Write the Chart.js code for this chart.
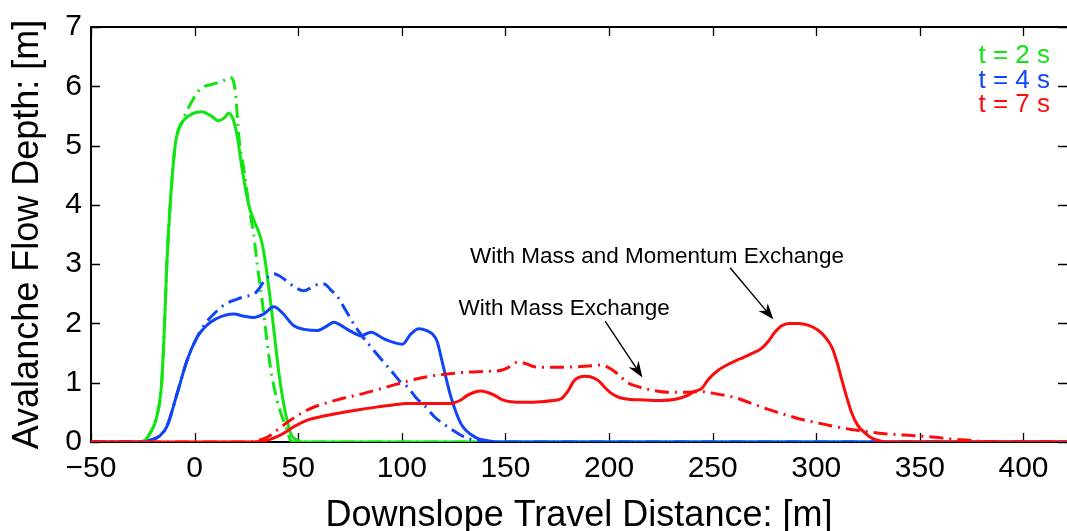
<!DOCTYPE html>
<html>
<head>
<meta charset="utf-8">
<script src="https://cdn.jsdelivr.net/npm/chart.js@4.4.1/dist/chart.umd.min.js"></script>
<style>
  html, body { margin: 0; padding: 0; background: #fff; }
</style>
</head>
<body>
<canvas id="myChart" width="1067" height="531"></canvas>
<script>
// values (x in m, depth in m)
const xTicks = [-50, 0, 50, 100, 150, 200, 250, 300, 350, 400];
const yTicks = [0, 1, 2, 3, 4, 5, 6, 7];

// t = 2 s
const g2SolidX = [-50, -28, -24, -21.5, -18.3, -15.9, -14.5, -13.4, -11.8, -9.4, -7.5, -5.5, -1, 3.5, 8, 11.5, 14.5, 16.4, 18.5, 20.5, 22.9, 26.1, 28.5, 31.8, 33.4, 36.6, 41.4, 46.3, 49, 52, 421];
const g2SolidY = [0, 0, 0.03, 0.15, 0.42, 1.0, 2.0, 3.0, 4.0, 5.0, 5.3, 5.42, 5.54, 5.57, 5.5, 5.42, 5.47, 5.55, 5.45, 5.17, 4.61, 4.0, 3.75, 3.45, 3.2, 2.38, 0.98, 0.15, 0.04, 0, 0];
const g2DashX = [-50, -28, -24, -21.5, -18.3, -15.9, -14.5, -13.4, -11.8, -9.4, -6.1, -2, 2.7, 9.2, 13, 17.2, 19.7, 21.3, 23.7, 26.9, 28.5, 30.2, 32.6, 36.6, 39.8, 43.9, 46.3, 48, 421];
const g2DashY = [0, 0, 0.03, 0.15, 0.42, 1.0, 2.0, 3.0, 4.0, 5.0, 5.39, 5.7, 5.95, 6.04, 6.08, 6.15, 5.9, 5.17, 4.61, 3.83, 3.5, 3.0, 2.38, 1.26, 0.7, 0.26, 0.03, 0, 0];

// t = 4 s
const b4SolidX = [-50, -24, -21.5, -17, -13.4, -8.5, -3.7, 1.1, 4, 7.6, 13, 18.8, 24, 28.5, 33.4, 38.2, 42.3, 47.9, 53, 59.2, 64, 67.2, 70, 73.7, 78, 80.1, 85, 91.4, 96, 100.3, 104.3, 108.3, 112, 114.8, 117, 119.7, 123.7, 128.5, 135, 141.4, 146, 421];
const b4SolidY = [0, 0, 0.03, 0.1, 0.26, 0.81, 1.37, 1.76, 1.9, 2.02, 2.12, 2.16, 2.12, 2.1, 2.16, 2.28, 2.18, 1.96, 1.9, 1.88, 1.96, 2.02, 1.98, 1.9, 1.82, 1.79, 1.85, 1.74, 1.68, 1.65, 1.82, 1.91, 1.88, 1.82, 1.7, 1.32, 0.76, 0.31, 0.09, 0.02, 0, 0];
const b4DashX = [-50, -24, -21.5, -17, -13.4, -8.5, -3.7, 1.1, 4.3, 10.8, 15, 20.5, 25, 28.5, 31, 33.4, 36, 38.2, 41, 44.7, 48, 52.7, 57, 60.8, 63, 65.6, 69, 72.1, 78.5, 86.6, 94.7, 99.5, 102.7, 107.5, 110.8, 115.6, 122, 131.8, 141, 146, 421];
const b4DashY = [0, 0, 0.03, 0.1, 0.26, 0.81, 1.37, 1.76, 1.96, 2.21, 2.33, 2.41, 2.46, 2.49, 2.58, 2.71, 2.8, 2.84, 2.8, 2.71, 2.62, 2.55, 2.62, 2.67, 2.66, 2.57, 2.45, 2.27, 1.9, 1.54, 1.21, 1.01, 0.93, 0.72, 0.62, 0.43, 0.26, 0.06, 0.01, 0, 0];

// t = 7 s
const r7SolidX = [-50, 28, 34, 39.8, 44, 47.9, 54.4, 62.4, 70, 78.5, 86, 94.7, 102.7, 115, 123.7, 128, 131.8, 135, 138.2, 141, 144.6, 148, 152.7, 160, 167.2, 173, 176.9, 180, 183.3, 188.2, 191, 194.7, 198, 201.1, 205, 209.2, 217, 225.3, 232, 238.2, 241, 244.6, 248, 252.7, 258, 263, 268.8, 273.6, 276.9, 280, 283.3, 287, 291.4, 296, 301.1, 304.5, 307.5, 310, 312.4, 315, 317.2, 320, 323.6, 327, 331.7, 336, 421];
const r7SolidY = [0, 0, 0.02, 0.09, 0.17, 0.26, 0.37, 0.44, 0.49, 0.54, 0.58, 0.62, 0.65, 0.65, 0.65, 0.7, 0.79, 0.84, 0.86, 0.84, 0.79, 0.72, 0.68, 0.67, 0.68, 0.7, 0.73, 0.85, 1.04, 1.11, 1.1, 1.04, 0.92, 0.82, 0.75, 0.72, 0.71, 0.7, 0.72, 0.79, 0.85, 0.9, 1.06, 1.21, 1.32, 1.4, 1.49, 1.58, 1.7, 1.85, 1.96, 2.0, 2.0, 1.97, 1.88, 1.76, 1.6, 1.35, 1.04, 0.72, 0.48, 0.28, 0.15, 0.06, 0.01, 0, 0];
const r7DashX = [-50, 25, 32, 36, 39.8, 46.3, 54.4, 60, 65.6, 73, 81.7, 92, 101.1, 108, 115.6, 122.9, 131.8, 140, 147.9, 152, 156, 160, 164, 170, 176.9, 185, 193, 196, 199.5, 203, 205.9, 209, 212.4, 220, 228.5, 236, 244.6, 252, 260.7, 268, 276.9, 285, 293, 301, 309.1, 317, 325.3, 333, 341.4, 350, 357.5, 365, 373.6, 380, 388, 421];
const r7DashY = [0, 0, 0.04, 0.1, 0.2, 0.37, 0.54, 0.62, 0.68, 0.75, 0.82, 0.92, 1.01, 1.07, 1.12, 1.15, 1.18, 1.19, 1.21, 1.27, 1.35, 1.32, 1.27, 1.26, 1.26, 1.27, 1.29, 1.3, 1.26, 1.18, 1.09, 1.0, 0.95, 0.88, 0.84, 0.84, 0.85, 0.81, 0.75, 0.66, 0.55, 0.46, 0.38, 0.32, 0.26, 0.21, 0.17, 0.14, 0.12, 0.1, 0.08, 0.05, 0.03, 0.01, 0, 0];

const legendLabels = ['t = 2 s', 't = 4 s', 't = 7 s'];

const FONT = "'Liberation Sans', Arial, Helvetica, sans-serif";
const GREEN = 'rgb(18, 228, 18)';
const BLUE = 'rgb(16, 68, 246)';
const RED = 'rgb(250, 12, 12)';
const DASHDOT = [14, 6, 2, 6];

function pts(xs, ys) {
  return xs.map((x, i) => ({ x: x, y: ys[i] }));
}

function line(label, xs, ys, color, dashed) {
  return {
    label: label,
    data: pts(xs, ys),
    borderColor: color,
    backgroundColor: color,
    borderWidth: 3,
    borderDash: dashed ? DASHDOT : [],
    pointRadius: 0,
    fill: false,
    cubicInterpolationMode: 'monotone'
  };
}

// annotations in data coordinates
const notes = [
  { text: 'With Mass and Momentum Exchange', x: 132.9, y: 3.13 },
  { text: 'With Mass Exchange', x: 127.3, y: 2.24 }
];
const arrows = [
  { x0: 258.4, y0: 2.94, x1: 279.3, y1: 2.07 },
  { x0: 198.1, y0: 2.04, x1: 216.1, y1: 1.09 }
];

// box and inward ticks, drawn under the lines
const boxPlugin = {
  id: 'boxPlugin',
  beforeDatasetsDraw(chart) {
    const { ctx, chartArea: a, scales } = chart;
    ctx.save();
    ctx.strokeStyle = '#000';
    ctx.lineWidth = 1.3;
    xTicks.forEach(v => {
      const px = Math.round(scales.x.getPixelForValue(v)) + 0.5;
      ctx.beginPath();
      ctx.moveTo(px, a.bottom); ctx.lineTo(px, a.bottom - 9);
      ctx.moveTo(px, a.top); ctx.lineTo(px, a.top + 9);
      ctx.stroke();
    });
    yTicks.forEach(v => {
      const py = Math.round(scales.y.getPixelForValue(v)) + 0.5;
      ctx.beginPath();
      ctx.moveTo(a.left, py); ctx.lineTo(a.left + 9, py);
      ctx.moveTo(a.right, py); ctx.lineTo(a.right - 9, py);
      ctx.stroke();
    });
    ctx.lineWidth = 2;
    ctx.beginPath();
    ctx.moveTo(a.left, a.bottom);
    ctx.lineTo(a.left, a.top);
    ctx.lineTo(a.right + 2, a.top);
    ctx.moveTo(a.left - 1, a.bottom);
    ctx.lineTo(a.right + 2, a.bottom);
    ctx.stroke();
    ctx.restore();
  }
};

// legend texts, annotation labels and arrows
const notePlugin = {
  id: 'notePlugin',
  afterDatasetsDraw(chart) {
    const { ctx, chartArea: a, scales } = chart;
    ctx.save();
    ctx.textBaseline = 'middle';

    ctx.font = '26px ' + FONT;
    ctx.textAlign = 'right';
    [GREEN, BLUE, RED].forEach((c, i) => {
      ctx.fillStyle = c;
      ctx.fillText(legendLabels[i], a.right - 17, a.top + 29 + i * 24.5);
    });

    ctx.font = '22.5px ' + FONT;
    ctx.textAlign = 'left';
    ctx.fillStyle = '#000';
    notes.forEach(n => {
      ctx.fillText(n.text, scales.x.getPixelForValue(n.x), scales.y.getPixelForValue(n.y));
    });

    arrows.forEach(ar => {
      const x0 = scales.x.getPixelForValue(ar.x0), y0 = scales.y.getPixelForValue(ar.y0);
      const x1 = scales.x.getPixelForValue(ar.x1), y1 = scales.y.getPixelForValue(ar.y1);
      const ang = Math.atan2(y1 - y0, x1 - x0);
      const L = 16, W = 6, N = 11;
      const bx = x1 - L * Math.cos(ang), by = y1 - L * Math.sin(ang);
      const nx = x1 - N * Math.cos(ang), ny = y1 - N * Math.sin(ang);
      ctx.strokeStyle = '#000';
      ctx.lineWidth = 1.4;
      ctx.beginPath();
      ctx.moveTo(x0, y0);
      ctx.lineTo(nx, ny);
      ctx.stroke();
      ctx.beginPath();
      ctx.moveTo(x1, y1);
      ctx.lineTo(bx - W * Math.sin(ang), by + W * Math.cos(ang));
      ctx.lineTo(nx, ny);
      ctx.lineTo(bx + W * Math.sin(ang), by - W * Math.cos(ang));
      ctx.closePath();
      ctx.fillStyle = '#000';
      ctx.fill();
    });
    ctx.restore();
  }
};

const config = {
  type: 'line',
  data: {
    datasets: [
      line('t=7 s momentum', r7SolidX, r7SolidY, RED, false),
      line('t=7 s mass', r7DashX, r7DashY, RED, true),
      line('t=4 s momentum', b4SolidX, b4SolidY, BLUE, false),
      line('t=4 s mass', b4DashX, b4DashY, BLUE, true),
      line('t=2 s momentum', g2SolidX, g2SolidY, GREEN, false),
      line('t=2 s mass', g2DashX, g2DashY, GREEN, true)
    ]
  },
  options: {
    responsive: false,
    animation: false,
    devicePixelRatio: 1,
    layout: { padding: { top: 24, right: 0, left: 0, bottom: 0 } },
    plugins: {
      legend: { display: false },
      tooltip: { enabled: false }
    },
    scales: {
      x: {
        type: 'linear',
        min: -50,
        max: 421,
        afterBuildTicks: s => { s.ticks = xTicks.map(v => ({ value: v })); },
        afterFit: s => { s.height = 89; s.paddingLeft = 0; s.paddingRight = 0; },
        grid: { display: false, drawTicks: false },
        border: { display: false },
        ticks: {
          font: { size: 30, family: FONT },
          color: '#000',
          padding: 9,
          maxRotation: 0,
          autoSkip: false,
          callback: v => String(v).replace('-', '\u2212')
        },
        title: {
          display: true,
          text: 'Downslope Travel Distance: [m]',
          font: { size: 36, family: FONT, lineHeight: 0.85 },
          color: '#000',
          padding: { top: 2, bottom: 0 }
        }
      },
      y: {
        min: 0,
        max: 7,
        afterBuildTicks: s => { s.ticks = yTicks.map(v => ({ value: v })); },
        afterFit: s => { s.width = 91; },
        grid: { display: false, drawTicks: false },
        border: { display: false },
        ticks: {
          font: { size: 30, family: FONT },
          color: '#000',
          padding: 9
        },
        title: {
          display: true,
          text: 'Avalanche Flow Depth: [m]',
          font: { size: 36, family: FONT },
          color: '#000',
          padding: { top: 6, bottom: 0 }
        }
      }
    }
  },
  plugins: [boxPlugin, notePlugin]
};

const myChart = new Chart(document.getElementById('myChart'), config);
</script>
</body>
</html>
